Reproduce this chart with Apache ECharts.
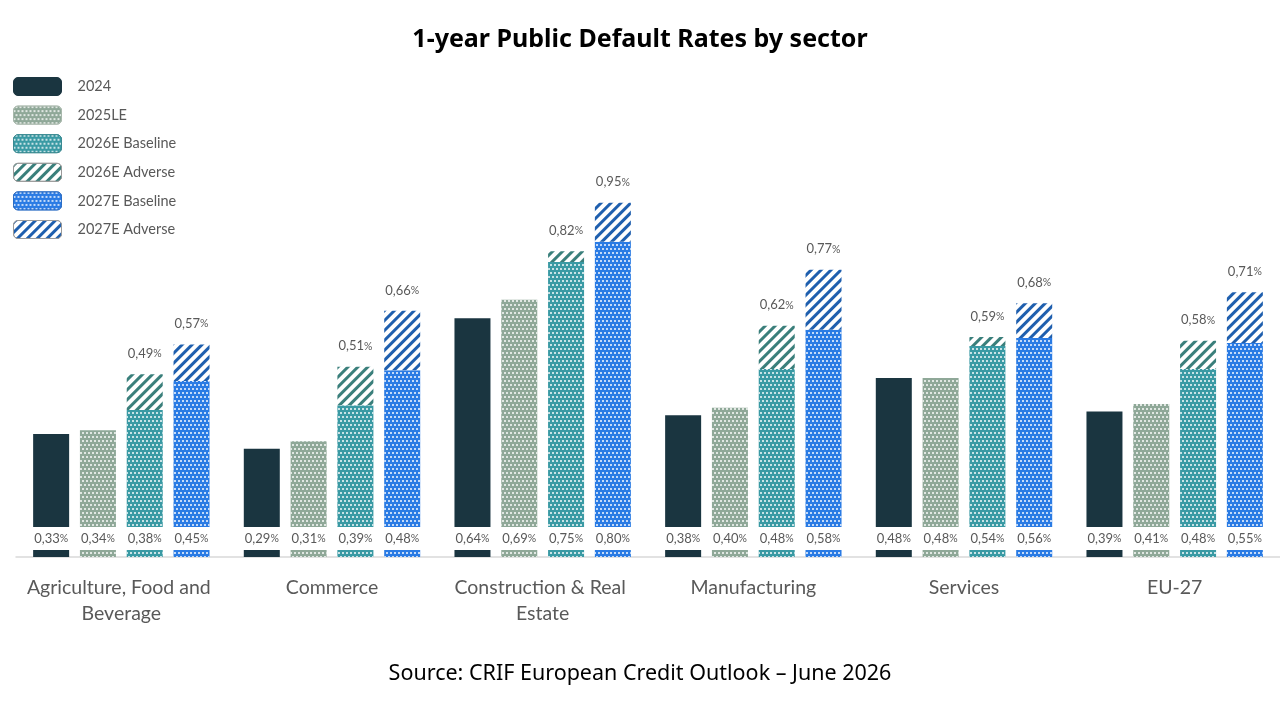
<!DOCTYPE html>
<html>
<head>
<meta charset="utf-8">
<title>1-year Public Default Rates by sector</title>
<script src="https://cdn.jsdelivr.net/npm/echarts@6/dist/echarts.min.js"></script>
<style>
  html, body { margin: 0; padding: 0; background: #fff; }
  #main { width: 1280px; height: 720px; }
</style>
</head>
<body>
<div id="main"></div>
<script>
// data (percent)
var sectors = ['Agriculture, Food and Beverage', 'Commerce', 'Construction & Real Estate', 'Manufacturing', 'Services', 'EU-27'];
var rate2024 = [0.33, 0.29, 0.64, 0.38, 0.48, 0.39];
var rate2025LE = [0.34, 0.31, 0.69, 0.40, 0.48, 0.41];
// printed labels
var base2026 = [0.38, 0.39, 0.75, 0.48, 0.54, 0.48];
var adverse2026 = [0.49, 0.51, 0.82, 0.62, 0.59, 0.58];
var base2027 = [0.45, 0.48, 0.80, 0.58, 0.56, 0.55];
var adverse2027 = [0.57, 0.66, 0.95, 0.77, 0.68, 0.71];
// the baseline segments are drawn a bit taller than their labels in the source,
// these are the heights as measured on the picture
var base2026Bar = [0.394, 0.407, 0.791, 0.504, 0.566, 0.504];
var base2027Bar = [0.472, 0.501, 0.845, 0.609, 0.587, 0.574];

var labelGrey = '#595959';
var font = 'Lato';

function fmt(v) {
  return '{v|' + v.toFixed(2).replace('.', ',') + '}{p|%}';
}

// adverse part stacked on the baseline segment
function extra(total, base) {
  return total.map(function (t, i) { return +(t - base[i]).toFixed(3); });
}

var rich = {
  v: { fontSize: 13, color: labelGrey, fontFamily: font },
  p: { fontSize: 10.5, color: labelGrey, fontFamily: font }
};

// white box with the value, sitting over the foot of the bar
function bottomLabel(printed) {
  return {
    show: true,
    position: 'insideBottom',
    distance: 7,
    width: 44,
    height: 23,
    lineHeight: 23,
    align: 'center',
    overflow: 'none',
    backgroundColor: '#fff',
    formatter: function (p) { return fmt(printed[p.dataIndex]); },
    rich: rich
  };
}

function dots() {
  return {
    symbol: 'rect',
    symbolSize: 1,
    color: 'rgba(255,255,255,0.72)',
    dashArrayX: [[2, 2], [0, 2, 2, 0]],
    dashArrayY: [2, 1.5]
  };
}

function stripes(col) {
  return {
    symbol: 'rect',
    symbolSize: 1,
    color: col,
    dashArrayX: [1, 0],
    dashArrayY: [2.5, 4],
    rotation: -Math.PI / 4
  };
}

function topLabel(totals) {
  return {
    show: true,
    position: 'top',
    distance: 14,
    formatter: function (p) { return fmt(totals[p.dataIndex]); },
    rich: rich
  };
}

var barBase = { type: 'bar', barWidth: 36, barGap: '30%' };

function bar(extraOpts) {
  return Object.assign({}, barBase, extraOpts);
}

var myChart = echarts.init(document.getElementById('main'));

var option = {
  animation: false,
  backgroundColor: '#fff',
  title: [{
    text: '1-year Public Default Rates by sector',
    left: 'center',
    top: 22,
    textStyle: { fontFamily: 'Noto Sans', fontWeight: 'bold', fontSize: 25, color: '#000' }
  }, {
    text: 'Source: CRIF European Credit Outlook \u2013 June 2026',
    left: 'center',
    top: 658,
    textStyle: { fontFamily: 'Noto Sans', fontWeight: 'normal', fontSize: 21.5, color: '#000' }
  }],
  legend: {
    orient: 'vertical',
    left: 13,
    top: 77,
    padding: 0,
    itemWidth: 48,
    itemHeight: 18,
    itemGap: 9.6,
    icon: 'roundRect',
    textStyle: { color: labelGrey, fontSize: 14.5, fontFamily: font, padding: [0, 0, 0, 11] },
    data: [
      { name: '2024', itemStyle: { borderColor: '#1a3540', borderWidth: 1 } },
      { name: '2025LE', itemStyle: { borderColor: '#a8b8ac', borderWidth: 1 } },
      { name: '2026E Baseline', itemStyle: { borderColor: '#3a8a92', borderWidth: 1 } },
      { name: '2026E Adverse', itemStyle: { borderColor: '#9a9a9a', borderWidth: 1 } },
      { name: '2027E Baseline', itemStyle: { borderColor: '#2a6cc4', borderWidth: 1 } },
      { name: '2027E Adverse', itemStyle: { borderColor: '#9a9a9a', borderWidth: 1 } }
    ]
  },
  grid: { left: 16, right: -8, top: 184, bottom: 163 },
  xAxis: {
    type: 'category',
    data: sectors,
    axisLine: { lineStyle: { color: '#d9d9d9', width: 1.5 } },
    axisTick: { show: false },
    axisLabel: {
      color: labelGrey,
      fontFamily: font,
      fontSize: 19.5,
      lineHeight: 26,
      margin: 18,
      width: 205,
      overflow: 'break',
      interval: 0
    }
  },
  yAxis: { type: 'value', min: 0, max: 1, show: false },
  series: [
    bar({
      name: '2024',
      data: rate2024,
      itemStyle: { color: '#1a3540' },
      label: bottomLabel(rate2024)
    }),
    bar({
      name: '2025LE',
      data: rate2025LE,
      itemStyle: { color: '#8fa898', decal: dots() },
      label: bottomLabel(rate2025LE)
    }),
    bar({
      name: '2026E Baseline',
      stack: 'y2026',
      data: base2026Bar,
      itemStyle: { color: '#3a9aa4', decal: dots() },
      label: bottomLabel(base2026)
    }),
    bar({
      name: '2026E Adverse',
      stack: 'y2026',
      data: extra(adverse2026, base2026Bar),
      itemStyle: { color: '#fff', decal: stripes('#3a7f7b') },
      label: topLabel(adverse2026)
    }),
    bar({
      name: '2027E Baseline',
      stack: 'y2027',
      data: base2027Bar,
      itemStyle: { color: '#2a7be4', decal: dots() },
      label: bottomLabel(base2027)
    }),
    bar({
      name: '2027E Adverse',
      stack: 'y2027',
      data: extra(adverse2027, base2027Bar),
      itemStyle: { color: '#fff', decal: stripes('#1f5fae') },
      label: topLabel(adverse2027)
    })
  ]
};

myChart.setOption(option);
</script>
</body>
</html>
